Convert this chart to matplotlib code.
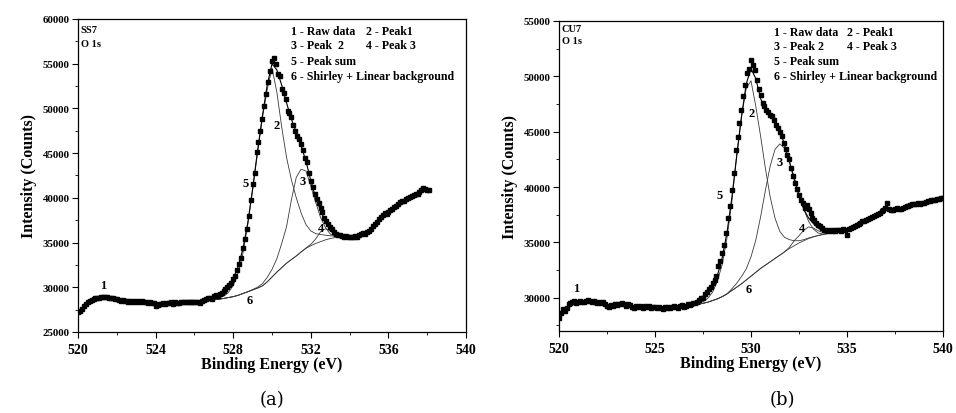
import numpy as np
import matplotlib
matplotlib.use("Agg")
import matplotlib.pyplot as plt
from matplotlib.ticker import MultipleLocator

plt.rcParams['font.family'] = ['Liberation Serif', 'DejaVu Serif']
plt.rcParams['font.weight'] = 'bold'
plt.rcParams['axes.labelweight'] = 'bold'

# raw spectra, 0.1 eV steps
a_start, a_step = 520.0, 0.1
a_raw = [27200, 27350, 27600, 27900, 28150, 28350, 28500, 28600, 28700, 28750,
         28800, 28850, 28900, 28950, 28900, 28950, 28850, 28800, 28750, 28700,
         28650, 28600, 28500, 28550, 28450, 28500, 28350, 28500, 28400, 28450,
         28350, 28500, 28300, 28450, 28350, 28400, 28250, 28350, 28200, 28250,
         27900, 28050, 28150, 28100, 28200, 28150, 28250, 28200, 28300, 28150,
         28300, 28250, 28200, 28350, 28300, 28400, 28350, 28300, 28400, 28350,
         28400, 28300, 28350, 28250, 28500, 28600, 28700, 28750, 28800, 28700,
         29000, 29100, 29050, 29200, 29400, 29600, 29800, 30000, 30300, 30500,
         30900, 31300, 31900, 32600, 33300, 34400, 35400, 36500, 38000, 39800,
         41500, 42800, 45100, 46200, 47500, 48800, 50300, 51600, 52900, 54200,
         55300, 55600, 55000, 53800, 53600, 52200, 51700, 51000, 49700, 49500,
         49000, 48200, 47500, 46900, 46600, 46000, 45300, 44500, 44000, 42800,
         41900, 41200, 40400, 39900, 39400, 38900, 38400, 37800, 37400, 37100,
         36700, 36500, 36200, 36000, 35900, 35800, 35750, 35650, 35700, 35650,
         35600, 35650, 35600, 35700, 35650, 35900, 36000, 36100, 36000, 36200,
         36300, 36500, 36800, 37100, 37300, 37600, 37900, 38100, 38300, 38200,
         38400, 38600, 38800, 39000, 39100, 39300, 39500, 39600, 39700, 39900,
         40000, 40100, 40200, 40300, 40400, 40400, 40600, 40900, 41150, 41000,
         40900, 40850]

b_start, b_step = 520.0, 0.1
b_raw = [28200, 28650, 28950, 28800, 29100, 29400, 29550, 29600, 29700, 29550,
         29650, 29700, 29600, 29650, 29700, 29800, 29700, 29650, 29750, 29600,
         29550, 29650, 29500, 29600, 29400, 29300, 29200, 29350, 29250, 29400,
         29350, 29450, 29400, 29500, 29400, 29300, 29450, 29350, 29200, 29100,
         29250, 29150, 29300, 29200, 29100, 29250, 29150, 29300, 29100, 29200,
         29150, 29050, 29200, 29100, 29000, 29150, 29050, 29200, 29100, 29150,
         29300, 29200, 29100, 29250, 29350, 29200, 29300, 29400, 29350, 29450,
         29550, 29500, 29650, 29800, 30000, 29950, 30300, 30500, 30750, 31000,
         31350, 31600, 31950, 32850, 33300, 34050, 34800, 35850, 37200, 38250,
         39750, 41250, 43350, 44550, 45800, 47000, 48200, 49250, 50300, 50700,
         51500, 51000, 50600, 49700, 48900, 48300, 47600, 47300, 47000, 46800,
         46500, 46400, 46100, 45600, 45300, 45000, 44600, 44000, 43400, 42900,
         42500, 41700, 41000, 40400, 39800, 39300, 38850, 38550, 38100, 38400,
         38000, 37650, 37200, 37000, 36750, 36600, 36450, 36300, 36150, 36100,
         36000, 36100, 36000, 36150, 36050, 36100, 36150, 36050, 36200, 36100,
         35700, 36200, 36300, 36400, 36450, 36600, 36700, 36750, 36900, 36950,
         37000, 37100, 37200, 37300, 37350, 37500, 37600, 37650, 37800, 37900,
         38100, 38550, 38000, 37900, 37950, 38000, 38100, 38000, 38050, 38150,
         38200, 38250, 38300, 38400, 38500, 38450, 38500, 38550, 38500, 38600,
         38550, 38650, 38700, 38750, 38800, 38850, 38800, 38900, 38950, 39000,
         39050]

# fitted curves, 0.25 eV steps from 527.0
fit_start, fit_step = 527.0, 0.25
a_bg = [28600, 28650, 28750, 28850, 28950, 29100, 29300, 29500, 29700, 29900,
        30150, 30600, 31150, 31700, 32200, 32700, 33100, 33500, 33950, 34350,
        34650, 34900, 35100, 35300, 35450, 35550, 35600, 35620, 35640, 35650]
a_p1 = [28700, 28800, 29000, 29400, 30200, 31600, 33800, 37000, 40900, 45000,
        48900, 52100, 54500, 51800, 47900, 44500, 42000, 40000, 38300, 37000,
        36300, 36000, 35900, 35820, 35760, 35710, 35680, 35660, 35650, 35650]
a_p2 = [28600, 28650, 28750, 28850, 28950, 29100, 29300, 29500, 29750, 30000,
        30400, 31100, 32000, 33200, 34900, 36800, 39800, 42300, 43200, 43000,
        41300, 39500, 37800, 36700, 35950, 35700, 35650, 35630, 35640, 35650]
a_p3 = [28600, 28650, 28750, 28850, 28950, 29100, 29300, 29500, 29700, 29900,
        30150, 30600, 31150, 31700, 32200, 32700, 33100, 33500, 33950, 34400,
        34800, 35400, 36200, 36550, 36300, 35900, 35700, 35650, 35650, 35650]
a_sum = [28900, 29150, 29550, 30100, 30950, 32300, 34300, 37200, 41000, 45200,
         49100, 52600, 55000, 54300, 52600, 50600, 48800, 47300, 45800, 44100,
         41900, 40000, 38600, 37400, 36600, 36100, 35850, 35700, 35660, 35650]

b_bg = [29350, 29400, 29500, 29600, 29750, 29900, 30100, 30350, 30650, 30950,
        31250, 31600, 31950, 32300, 32650, 32950, 33250, 33550, 33850, 34150,
        34450, 34700, 34950, 35150, 35350, 35500, 35620, 35720, 35800, 35850]
b_p1 = [29400, 29500, 29650, 29950, 30500, 31500, 33000, 35400, 38600, 42800,
        46300, 48900, 49600, 47300, 44600, 41700, 39100, 37200, 36000, 35450,
        35250, 35150, 35150, 35250, 35400, 35520, 35620, 35720, 35800, 35850]
b_p2 = [29350, 29400, 29500, 29600, 29750, 29900, 30100, 30350, 30800, 31300,
        31900, 32600, 33700, 35200, 37300, 39700, 41900, 43400, 43900, 43500,
        42300, 40900, 39400, 38000, 36900, 36200, 35850, 35750, 35800, 35850]
b_p3 = [29350, 29400, 29500, 29600, 29750, 29900, 30100, 30350, 30650, 30950,
        31250, 31600, 31950, 32300, 32650, 32950, 33250, 33550, 33850, 34150,
        34550, 35150, 35600, 36100, 36400, 36300, 36050, 35900, 35850, 35850]
b_sum = [29450, 29600, 29850, 30300, 31000, 32000, 33600, 35900, 39000, 42700,
         46300, 49300, 50700, 49800, 48000, 46900, 46500, 46000, 45200, 43800,
         42300, 40700, 39200, 38000, 37200, 36700, 36300, 36050, 35900, 35850]

legend_lines = [("1 - Raw data", "2 - Peak1"), ("3 - Peak  2", "4 - Peak 3"),
                ("5 - Peak sum", ""), ("6 - Shirley + Linear background", "")]
legend_lines_b = [("1 - Raw data", "2 - Peak1"), ("3 - Peak 2", "4 - Peak 3"),
                  ("5 - Peak sum", ""), ("6 - Shirley + Linear background", "")]

# label positions for curve numbers (x, y)
a_labels = {"1": (521.3, 30200), "2": (530.25, 48100), "3": (531.6, 41900),
            "4": (532.5, 36600), "5": (528.65, 41700), "6": (528.85, 28550)}
b_labels = {"1": (520.9, 30900), "2": (530.03, 46700), "3": (531.5, 42300),
            "4": (532.65, 36300), "5": (528.38, 39300), "6": (529.86, 30750)}

fig = plt.figure(figsize=(9.56, 4.14), dpi=100)
ax1 = fig.add_axes([0.0816, 0.1957, 0.4059, 0.7560])
ax2 = fig.add_axes([0.5847, 0.1981, 0.4017, 0.7488])


def draw(ax, start, step, raw, bg, p1, p2, p3, tot, xlim, ylim, xmaj, xmin,
         name, legend, lab, leg_x, leg_x2, leg_y, name_y):
    x = np.round(start + step * np.arange(len(raw)), 2)
    fx = np.round(fit_start + fit_step * np.arange(len(bg)), 2)
    for c in (bg, p1, p2, p3):
        ax.plot(fx, c, color="#3a3a3a", lw=0.6, zorder=2)
    ax.plot(fx, tot, color="black", lw=0.8, zorder=3)
    ax.plot(x, raw, ls="none", marker="s", ms=3.5, color="black", zorder=4)
    ax.set_xlim(*xlim)
    ax.set_ylim(*ylim)
    ax.xaxis.set_major_locator(MultipleLocator(xmaj))
    ax.xaxis.set_minor_locator(MultipleLocator(xmin))
    ax.yaxis.set_major_locator(MultipleLocator(5000))
    ax.yaxis.set_minor_locator(MultipleLocator(2500))
    ax.tick_params(which="major", direction="out", length=4, width=0.8,
                   labelsize=7.8, pad=2)
    ax.tick_params(which="minor", direction="out", length=2.5, width=0.6)
    ax.tick_params(axis="x", labelsize=10, pad=4)
    for t in ax.get_xticklabels() + ax.get_yticklabels():
        t.set_fontweight("bold")
    for s in ax.spines.values():
        s.set_linewidth(0.9)
    ax.set_xlabel("Binding Energy (eV)", fontsize=11.5, labelpad=0,
                  fontweight="bold")
    ax.set_ylabel("Intensity (Counts)", fontsize=11.5, labelpad=4,
                  fontweight="bold")
    ax.text(xlim[0] + 0.15, name_y[0], name, fontsize=7.5, va="center",
            fontweight="bold")
    ax.text(xlim[0] + 0.15, name_y[1], "O 1s", fontsize=7.5, va="center",
            fontweight="bold")
    for i, (l1, l2) in enumerate(legend):
        ax.text(leg_x, leg_y[i], l1, fontsize=8.6, va="center",
                fontweight="bold")
        if l2:
            ax.text(leg_x2, leg_y[i], l2, fontsize=8.6, va="center",
                    fontweight="bold")
    for k, (lx, ly) in lab.items():
        ax.text(lx, ly, k, fontsize=9, ha="center", va="center",
                fontweight="bold")


draw(ax1, a_start, a_step, a_raw, a_bg, a_p1, a_p2, a_p3, a_sum,
     (520, 540), (25000, 60000), 4, 2, "SS7", legend_lines, a_labels,
     531.0, 534.85, [58700, 57100, 55350, 53650], (58800, 57300))
draw(ax2, b_start, b_step, b_raw, b_bg, b_p1, b_p2, b_p3, b_sum,
     (520, 540), (27000, 55000), 5, 2.5, "CU7", legend_lines_b, b_labels,
     531.2, 535.0, [54000, 52700, 51350, 50000], (54300, 53200))

fig.text(272 / 956, 1 - 400 / 414, "(a)", fontsize=13, ha="center",
         va="center", family="DejaVu Serif", weight="normal")
fig.text(782 / 956, 1 - 400 / 414, "(b)", fontsize=13, ha="center",
         va="center", family="DejaVu Serif", weight="normal")

fig.savefig("out.png", dpi=100)
